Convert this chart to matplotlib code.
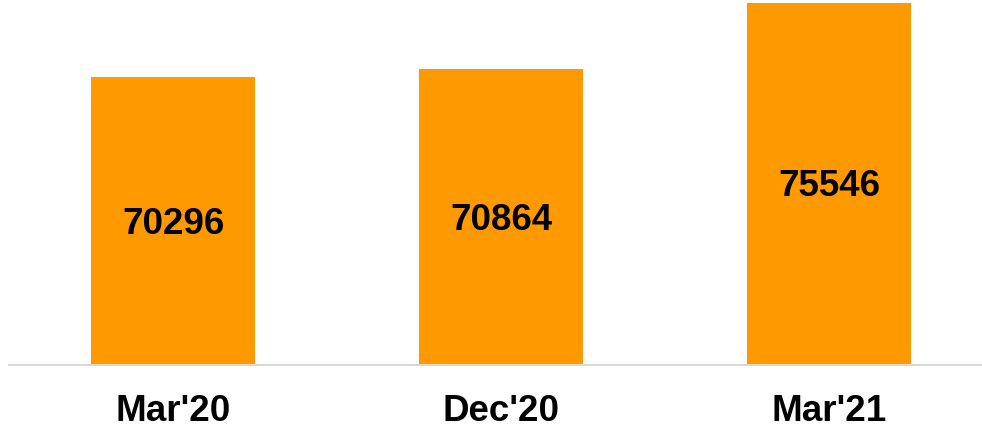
import matplotlib
matplotlib.use("Agg")
import matplotlib.pyplot as plt

# data
periods = ["Mar'20", "Dec'20", "Mar'21"]
values = [70296, 70864, 75546]

plt.rcParams['font.family'] = ['Liberation Sans', 'DejaVu Sans']

fig = plt.figure(figsize=(9.82, 4.31), dpi=100)
ax = fig.add_axes([9 / 982, 1 - 366 / 431, 973 / 982, 366 / 431])

x = range(len(periods))
bars = ax.bar(x, values, width=0.5, color='#FF9900', zorder=2)

ax.set_ylim(50000, 75800)
ax.set_xlim(-0.5, 2.465)

# value labels centred in each bar
for xi, v in zip(x, values):
    ax.annotate(str(v), xy=(xi, (50000 + v) / 2), xytext=(0, -1.5),
                textcoords='offset points', ha='center', va='center',
                fontsize=26.5, fontweight='bold', color='black')

ax.set_xticks(list(x))
ax.set_xticklabels(periods, fontsize=26.5, fontweight='bold')
ax.tick_params(axis='x', length=0, pad=20)
ax.set_yticks([])

for side in ['top', 'right', 'left']:
    ax.spines[side].set_visible(False)
ax.spines['bottom'].set_color('#d9d9d9')
ax.spines['bottom'].set_linewidth(1.5)

fig.savefig('out.png', dpi=100)
